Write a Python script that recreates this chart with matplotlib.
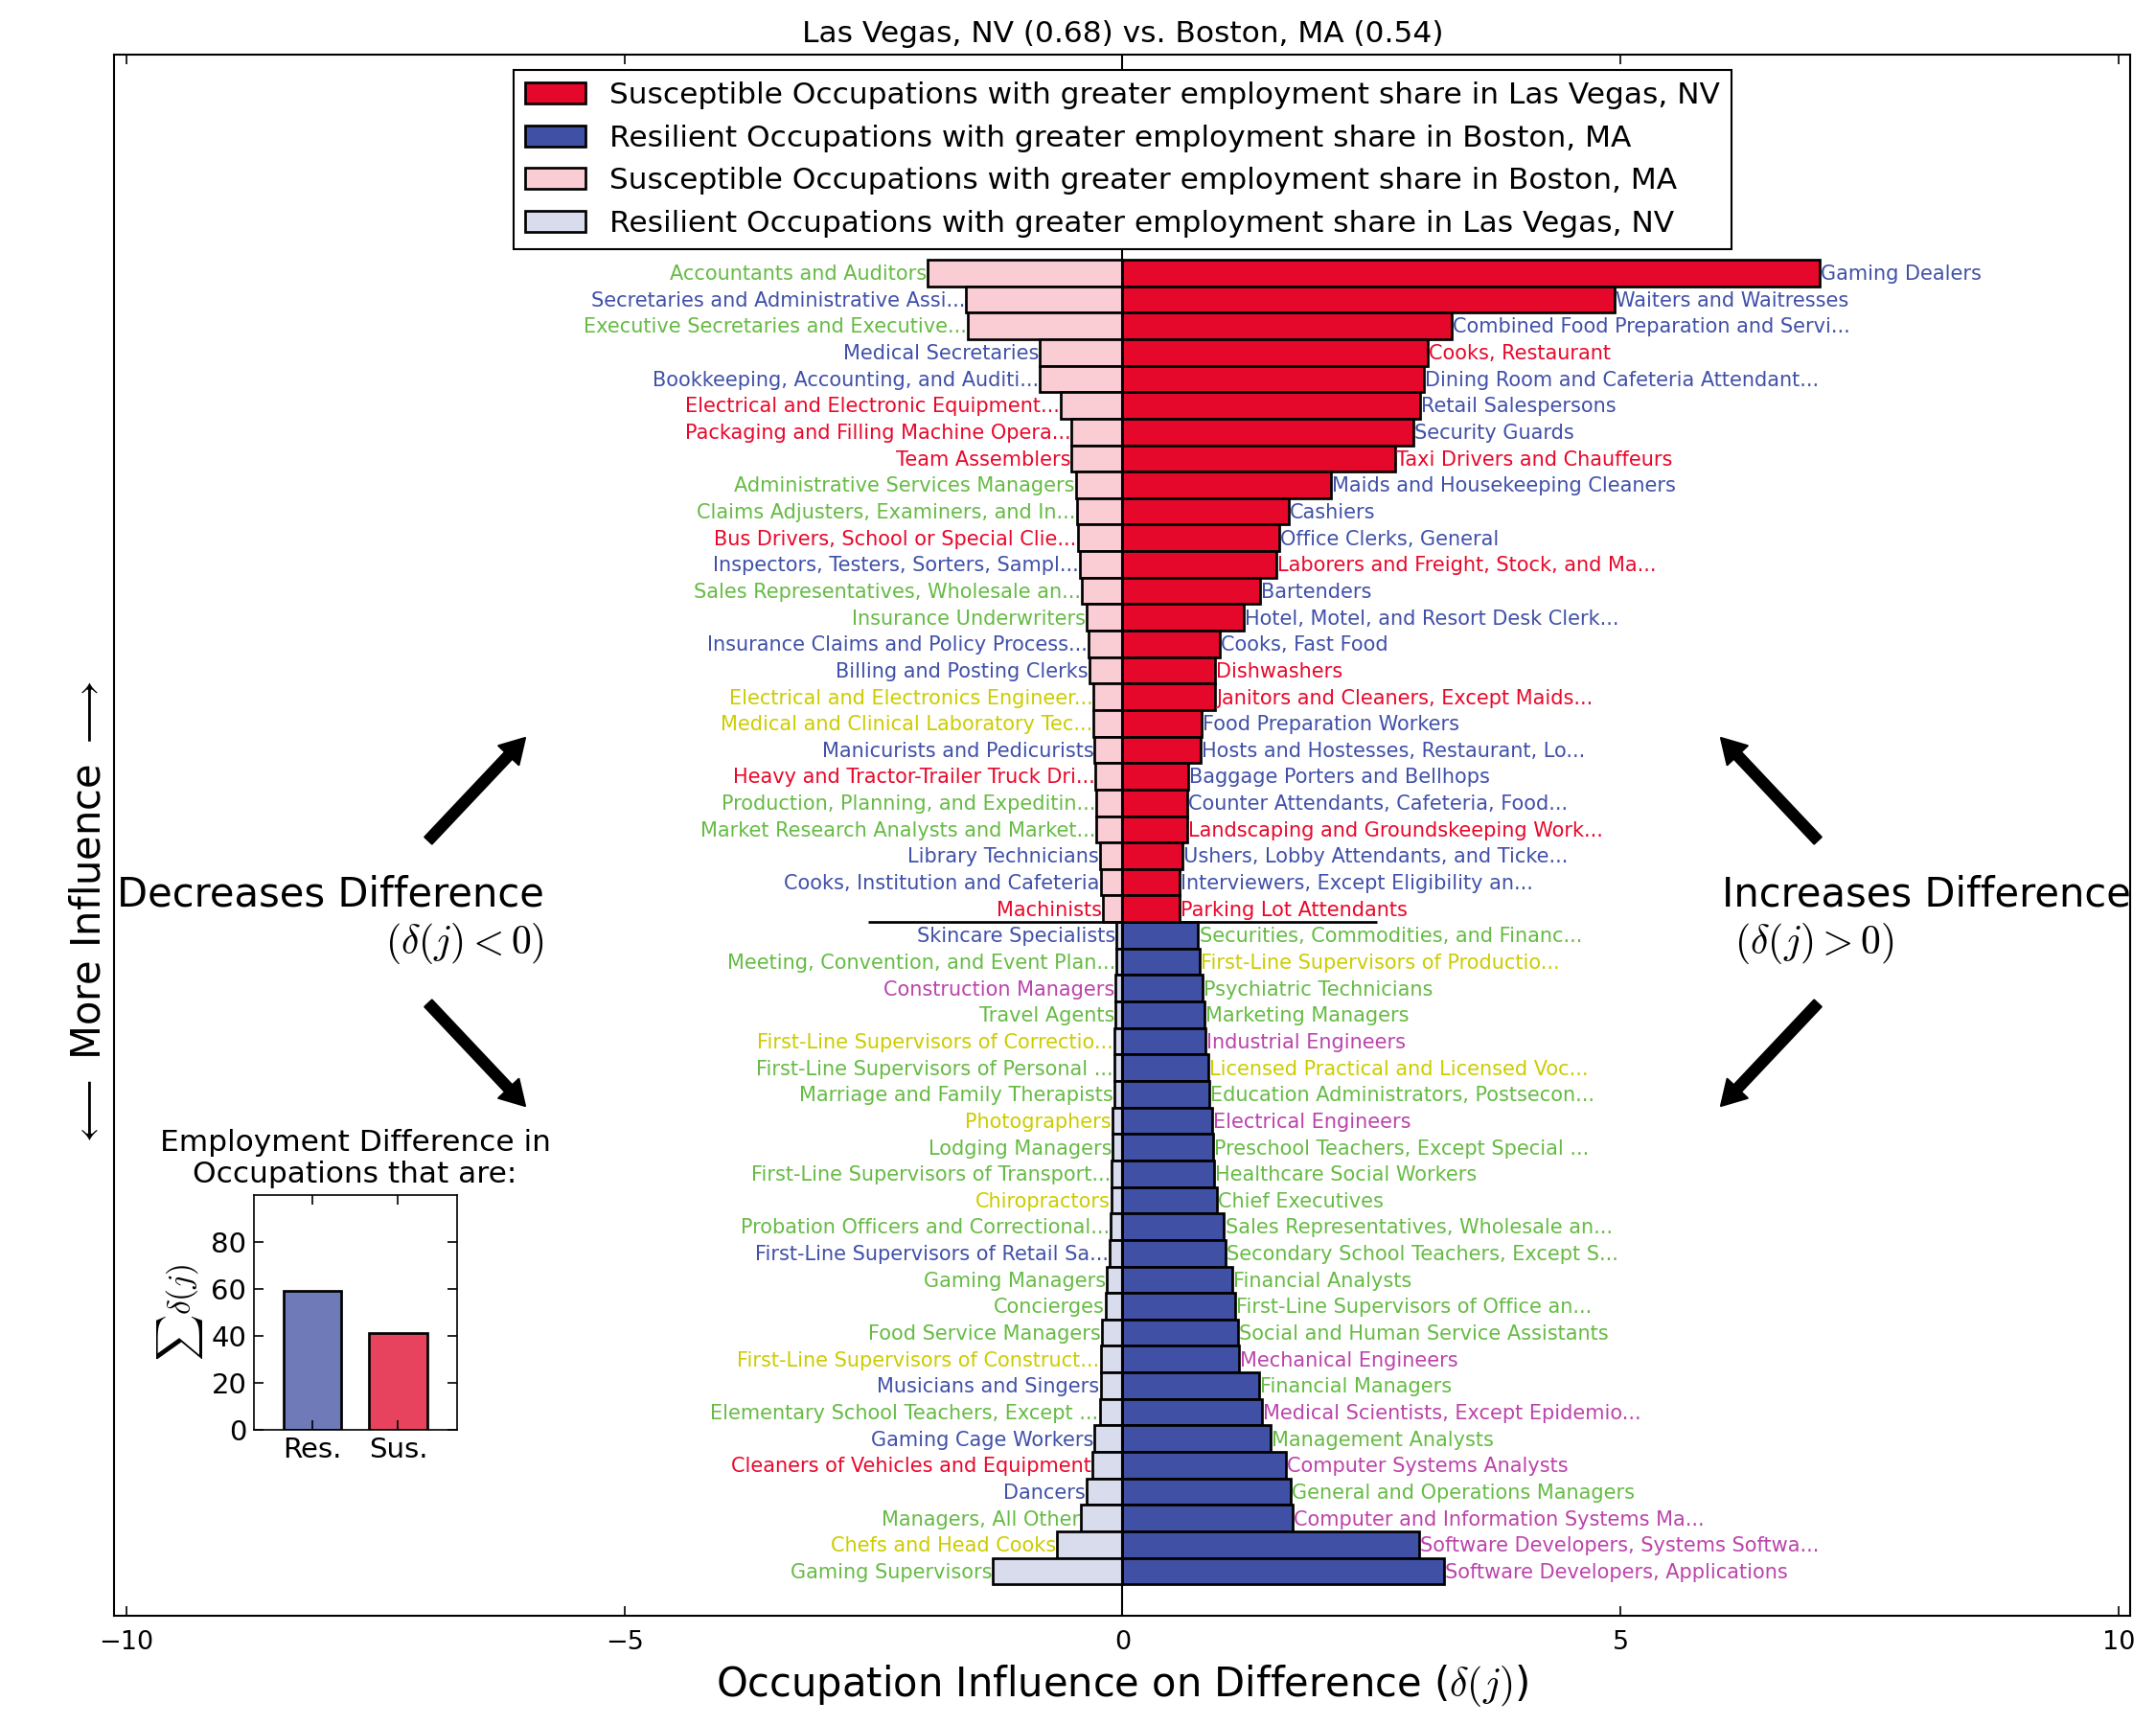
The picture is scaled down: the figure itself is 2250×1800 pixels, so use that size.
import matplotlib
matplotlib.use('Agg')
import matplotlib.pyplot as plt

plt.rcParams['font.family'] = ['DejaVu Sans']
plt.rcParams['mathtext.fontset'] = 'cm'

# label category colours
G = '#66bb44'; B = '#4050a8'; R = '#e8082b'; Y = '#cccc00'; M = '#bb44aa'

# ---- Susceptible occupations, greater share in Las Vegas (right, top half)
sus_lv_labels = ["Gaming Dealers", "Waiters and Waitresses", "Combined Food Preparation and Servi...",
                 "Cooks, Restaurant", "Dining Room and Cafeteria Attendant...", "Retail Salespersons",
                 "Security Guards", "Taxi Drivers and Chauffeurs", "Maids and Housekeeping Cleaners",
                 "Cashiers", "Office Clerks, General", "Laborers and Freight, Stock, and Ma...",
                 "Bartenders", "Hotel, Motel, and Resort Desk Clerk...", "Cooks, Fast Food",
                 "Dishwashers", "Janitors and Cleaners, Except Maids...", "Food Preparation Workers",
                 "Hosts and Hostesses, Restaurant, Lo...", "Baggage Porters and Bellhops",
                 "Counter Attendants, Cafeteria, Food...", "Landscaping and Groundskeeping Work...",
                 "Ushers, Lobby Attendants, and Ticke...", "Interviewers, Except Eligibility an...",
                 "Parking Lot Attendants"]
sus_lv_values = [7.00, 4.94, 3.30, 3.06, 3.03, 2.99, 2.92, 2.74, 2.09, 1.67, 1.57, 1.54, 1.38,
                 1.22, 0.98, 0.93, 0.93, 0.79, 0.78, 0.66, 0.65, 0.65, 0.60, 0.57, 0.57]
sus_lv_colors = [B, B, B, R, B, B, B, R, B, B, B, R, B, B, B, R, R, B, B, B, B, R, B, B, R]

# ---- Susceptible occupations, greater share in Boston (left, top half)
sus_bos_labels = ["Accountants and Auditors", "Secretaries and Administrative Assi...",
                  "Executive Secretaries and Executive...", "Medical Secretaries",
                  "Bookkeeping, Accounting, and Auditi...", "Electrical and Electronic Equipment...",
                  "Packaging and Filling Machine Opera...", "Team Assemblers",
                  "Administrative Services Managers", "Claims Adjusters, Examiners, and In...",
                  "Bus Drivers, School or Special Clie...", "Inspectors, Testers, Sorters, Sampl...",
                  "Sales Representatives, Wholesale an...", "Insurance Underwriters",
                  "Insurance Claims and Policy Process...", "Billing and Posting Clerks",
                  "Electrical and Electronics Engineer...", "Medical and Clinical Laboratory Tec...",
                  "Manicurists and Pedicurists", "Heavy and Tractor-Trailer Truck Dri...",
                  "Production, Planning, and Expeditin...", "Market Research Analysts and Market...",
                  "Library Technicians", "Cooks, Institution and Cafeteria", "Machinists"]
sus_bos_values = [-1.96, -1.57, -1.55, -0.83, -0.83, -0.62, -0.51, -0.51, -0.47, -0.46, -0.45,
                  -0.43, -0.41, -0.36, -0.34, -0.33, -0.29, -0.29, -0.28, -0.27, -0.26, -0.26,
                  -0.23, -0.22, -0.20]
sus_bos_colors = [G, B, G, B, B, R, R, R, G, G, R, B, G, G, B, B, Y, Y, B, R, G, G, B, B, R]

# ---- Resilient occupations, greater share in Boston (right, bottom half)
res_bos_labels = ["Securities, Commodities, and Financ...", "First-Line Supervisors of Productio...",
                  "Psychiatric Technicians", "Marketing Managers", "Industrial Engineers",
                  "Licensed Practical and Licensed Voc...", "Education Administrators, Postsecon...",
                  "Electrical Engineers", "Preschool Teachers, Except Special ...",
                  "Healthcare Social Workers", "Chief Executives",
                  "Sales Representatives, Wholesale an...", "Secondary School Teachers, Except S...",
                  "Financial Analysts", "First-Line Supervisors of Office an...",
                  "Social and Human Service Assistants", "Mechanical Engineers", "Financial Managers",
                  "Medical Scientists, Except Epidemio...", "Management Analysts",
                  "Computer Systems Analysts", "General and Operations Managers",
                  "Computer and Information Systems Ma...", "Software Developers, Systems Softwa...",
                  "Software Developers, Applications"]
res_bos_values = [0.76, 0.77, 0.80, 0.82, 0.83, 0.86, 0.87, 0.90, 0.91, 0.92, 0.95, 1.02, 1.03,
                  1.10, 1.13, 1.16, 1.17, 1.37, 1.40, 1.49, 1.64, 1.69, 1.71, 2.98, 3.23]
res_bos_colors = [G, Y, G, G, M, Y, G, M, G, G, G, G, G, G, G, G, M, G, M, G, M, G, M, M, M]

# ---- Resilient occupations, greater share in Las Vegas (left, bottom half)
res_lv_labels = ["Skincare Specialists", "Meeting, Convention, and Event Plan...",
                 "Construction Managers", "Travel Agents", "First-Line Supervisors of Correctio...",
                 "First-Line Supervisors of Personal ...", "Marriage and Family Therapists",
                 "Photographers", "Lodging Managers", "First-Line Supervisors of Transport...",
                 "Chiropractors", "Probation Officers and Correctional...",
                 "First-Line Supervisors of Retail Sa...", "Gaming Managers", "Concierges",
                 "Food Service Managers", "First-Line Supervisors of Construct...",
                 "Musicians and Singers", "Elementary School Teachers, Except ...",
                 "Gaming Cage Workers", "Cleaners of Vehicles and Equipment", "Dancers",
                 "Managers, All Other", "Chefs and Head Cooks", "Gaming Supervisors"]
res_lv_values = [-0.06, -0.06, -0.07, -0.07, -0.08, -0.085, -0.085, -0.10, -0.10, -0.11, -0.11,
                 -0.12, -0.13, -0.16, -0.17, -0.21, -0.22, -0.22, -0.23, -0.28, -0.30, -0.36,
                 -0.42, -0.66, -1.30]
res_lv_colors = [B, G, M, G, Y, G, G, Y, G, G, Y, G, B, G, G, G, Y, B, G, B, R, B, G, Y, G]

# inset
inset_cats = ["Res.", "Sus."]
inset_vals = [59, 41]

legend_labels = ["Susceptible Occupations with greater employment share in Las Vegas, NV",
                 "Resilient Occupations with greater employment share in Boston, MA",
                 "Susceptible Occupations with greater employment share in Boston, MA",
                 "Resilient Occupations with greater employment share in Las Vegas, NV"]

RED = '#e5082a'; BLUE = '#4050a5'; PINK = '#facdd4'; LAV = '#d9dced'

W, H = 2250, 1800
fig = plt.figure(figsize=(15, 12), dpi=150)
ax = fig.add_axes([0.0531, 0.06306, 0.9351, 0.90528])

n = len(sus_lv_values)
y_top = [2 * n - 1 - i for i in range(n)]
y_bot = [n - 1 - i for i in range(n)]

bkw = dict(height=1.0, edgecolor='black', linewidth=1.3, align='center')
h1 = ax.barh(y_top, sus_lv_values, color=RED, label=legend_labels[0], **bkw)
h2 = ax.barh(y_bot, res_bos_values, color=BLUE, label=legend_labels[1], **bkw)
h3 = ax.barh(y_top, sus_bos_values, color=PINK, label=legend_labels[2], **bkw)
h4 = ax.barh(y_bot, res_lv_values, color=LAV, label=legend_labels[3], **bkw)

def put_labels(ys, vals, labs, cols):
    for yy, v, s, c in zip(ys, vals, labs, cols):
        if v >= 0:
            ax.text(v + 0.01, yy - 0.05, s, ha='left', va='center', color=c, fontsize=10)
        else:
            ax.text(v - 0.01, yy - 0.05, s, ha='right', va='center', color=c, fontsize=10)

put_labels(y_top, sus_lv_values, sus_lv_labels, sus_lv_colors)
put_labels(y_top, sus_bos_values, sus_bos_labels, sus_bos_colors)
put_labels(y_bot, res_bos_values, res_bos_labels, res_bos_colors)
put_labels(y_bot, res_lv_values, res_lv_labels, res_lv_colors)

ax.axvline(0, color='black', linewidth=1.0, zorder=3)
ax.hlines(n - 0.5, -2.55, 2.55, color='black', linewidth=1.3, zorder=3)

ax.set_xlim(-10.12, 10.12)
ax.set_ylim(-1.70, 2 * n - 1 + 8.24)
ax.set_xticks([-10, -5, 0, 5, 10])
ax.set_yticks([])
ax.tick_params(axis='x', direction='in', top=True, bottom=True, labelsize=13, length=5, pad=7)
for sp in ax.spines.values():
    sp.set_linewidth(1.0)

ax.set_title('Las Vegas, NV (0.68) vs. Boston, MA (0.54)', fontsize=15, pad=6)
ax.set_xlabel(r'Occupation Influence on Difference ($\delta(j)$)', fontsize=20, labelpad=4)

leg = ax.legend(handles=[h1, h2, h3, h4], loc='upper center', fontsize=15, fancybox=False,
                edgecolor='black', framealpha=1, borderaxespad=0.5)
leg.get_frame().set_linewidth(1.0)

# side annotations
fig.text(93 / W, 1 - 955 / H, r'$\longleftarrow$ More Influence $\longrightarrow$',
         rotation=90, ha='center', va='center', fontsize=20)
fig.text(568 / W, 1 - 960 / H, 'Decreases Difference\n' + r'$(\delta(j) < 0)$',
         ha='right', va='center', fontsize=20, multialignment='right')
fig.text(1797 / W, 1 - 960 / H, 'Increases Difference\n' + r' $(\delta(j) > 0)$',
         ha='left', va='center', fontsize=20, multialignment='left')

arrows = [((447, 877), (548, 770)), ((447, 1047), (548, 1154)),
          ((1897, 877), (1796, 770)), ((1897, 1047), (1796, 1154))]
for tail, head in arrows:
    ax.annotate('', xy=(head[0] / W, 1 - head[1] / H), xytext=(tail[0] / W, 1 - tail[1] / H),
                xycoords='figure fraction', textcoords='figure fraction',
                arrowprops=dict(facecolor='black', edgecolor='black', width=5, headwidth=14,
                                headlength=12, shrink=0), annotation_clip=False)

# inset
axi = fig.add_axes([0.1176, 0.1713, 0.0942, 0.1361])
axi.bar([0, 1], inset_vals, width=0.67, color=['#6f7bb8', '#e8435e'], edgecolor='black', linewidth=1.3)
axi.set_xlim(-0.68, 1.68)
axi.set_ylim(0, 100)
axi.set_yticks([0, 20, 40, 60, 80])
axi.set_xticks([0, 1])
axi.set_xticklabels(inset_cats)
axi.tick_params(direction='in', top=True, right=True, labelsize=14, length=5)
axi.set_title('Employment Difference in\nOccupations that are:', fontsize=15, pad=6)
axi.set_ylabel(r'$\sum\delta(j)$', fontsize=16, labelpad=3)

fig.savefig('out.png', dpi=150)
